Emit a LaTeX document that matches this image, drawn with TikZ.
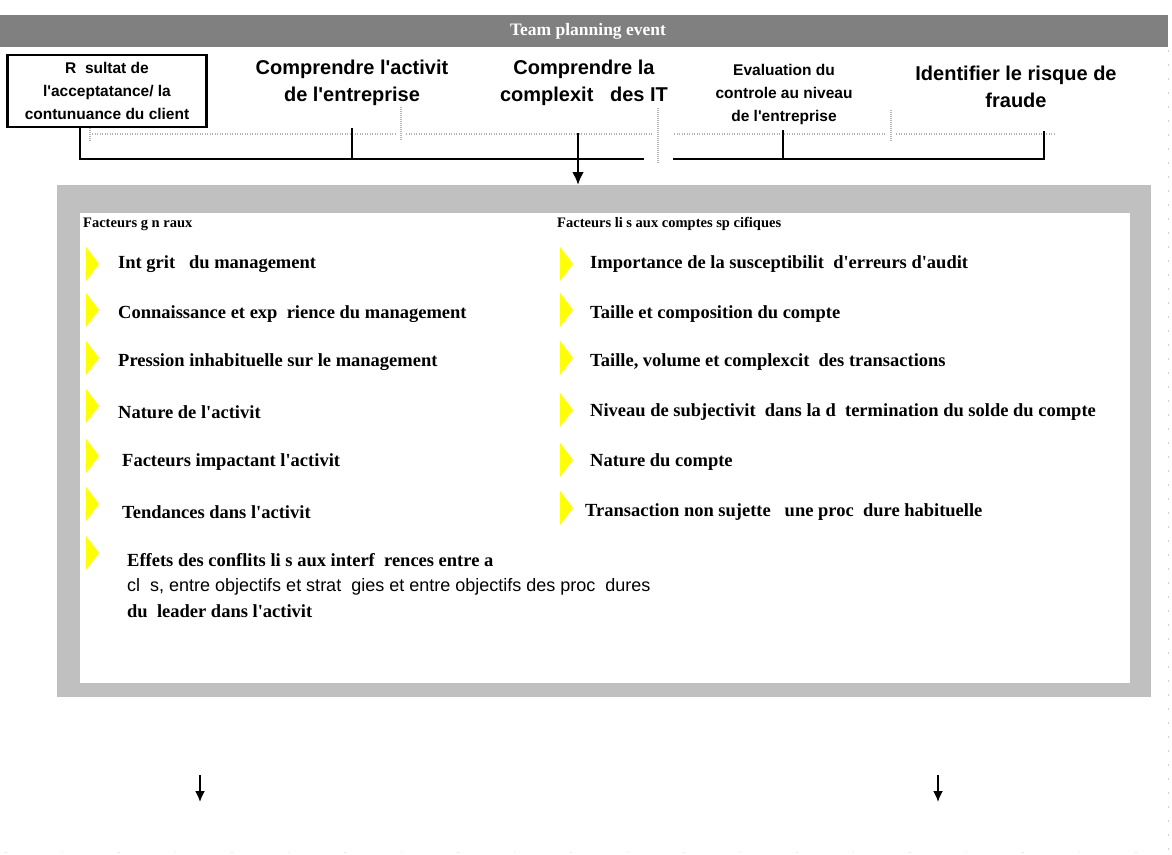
\documentclass[tikz,border=0pt]{standalone}
\usepackage{fontspec}
\setmainfont{Liberation Serif}[Ligatures=TeXOff]
\setsansfont{Liberation Sans}[Ligatures=TeXOff]
\usetikzlibrary{arrows.meta}
\definecolor{hdr}{HTML}{808080}
\definecolor{panelgray}{HTML}{C0C0C0}
\definecolor{bul}{HTML}{FFFF00}
\definecolor{ruler}{HTML}{B4B4B4}
\tikzset{
  brk/.style={line width=2.8pt, draw=black},
  rulerline/.style={draw=ruler, line width=1.2pt, dash pattern=on 1pt off 1.5pt},
  rulersep/.style={draw=ruler, line width=2pt, dash pattern=on 1pt off 1pt},
  biglabel/.style={align=center, inner sep=0pt, font=\sffamily\bfseries\fontsize{20}{27}\selectfont},
  midlabel/.style={align=center, inner sep=0pt, font=\sffamily\bfseries\fontsize{15.5}{23}\selectfont},
  item/.style={anchor=west, inner sep=0pt, font=\bfseries\fontsize{18.5}{20}\selectfont},
  sansitem/.style={anchor=west, inner sep=0pt, font=\sffamily\fontsize{18}{20}\selectfont},
  smallhead/.style={anchor=west, inner sep=0pt, font=\bfseries\fontsize{14.5}{16}\selectfont},
  downarrow/.style={line width=1.8pt, -{Latex[length=11pt,width=10pt]}},
}
\newcommand{\bulletat}[2]{\fill[bul] (#1,#2-17) -- (#1+13,#2) -- (#1,#2+17) -- cycle;}
\begin{document}
\begin{tikzpicture}[x=1pt,y=-1pt]
\useasboundingbox (0,0) rectangle (1172,854);
\fill[white] (0,0) rectangle (1172,854);

% faint page edge marks
\draw[gray!35, line width=0.8pt, dash pattern=on 1.5pt off 12.5pt] (1168,50) -- (1168,854);
\draw[gray!18, line width=0.8pt, dash pattern=on 1.5pt off 55pt] (5,852) -- (1172,852);

% header bar
\fill[hdr] (0,15) rectangle (1168,47);
\node[text=white, inner sep=0pt, font=\bfseries\fontsize{17.5}{19}\selectfont] (title) at (588,31) {Team planning event};

% top labels
\node[draw, line width=2.5pt, minimum width=199pt, minimum height=72pt, inner sep=0pt,
      align=center, font=\sffamily\bfseries\fontsize{15.5}{23}\selectfont] (box) at (107,91)
      {R\ \ sultat de\\l'acceptatance/ la\\contunuance du client};
\node[biglabel] (act) at (352,83) {Comprendre l'activit\\de l'entreprise};
\node[biglabel] (it) at (584,83) {Comprendre la\\complexit\ \ \ des IT};
\node[midlabel] (eval) at (784,94) {Evaluation du\\controle au niveau\\de l'entreprise};
\node[biglabel] (fraud) at (1016,87) {Identifier le risque de\\fraude};

% ruler lines
\draw[rulerline] (92,134) -- (396,134);
\draw[rulerline] (406,134) -- (652,134);
\draw[rulerline] (674,134) -- (886,134);
\draw[rulerline] (896,134) -- (1055,134);
\draw[rulersep] (90,128) -- (90,141);
\draw[rulersep] (401,107) -- (401,141);
\draw[rulersep] (658,108) -- (658,164);
\draw[rulersep] (891,110) -- (891,141);

% bracket
\coordinate (b1) at (80,159);
\coordinate (b2) at (352,159);
\coordinate (b3) at (578,159);
\coordinate (gL) at (644,159);
\coordinate (gR) at (673,159);
\coordinate (b4) at (783,159);
\coordinate (b5) at (1044,159);
\draw[brk] (box.south -| b1) -- (b1) -- (gL);
\draw[brk] (gR) -- (b5) -- (1044,131);
\draw[brk] (352,128) -- (b2);
\draw[brk] (783,130) -- (b4);

% panel
\node[fill=panelgray, inner sep=0pt, minimum width=1094pt, minimum height=512pt, anchor=north west] (panel) at (57,185) {};
\fill[white] (80,213) rectangle (1130,683);
\draw[brk, -{Latex[length=13pt,width=12pt]}] (578,133) -- (b3) -- (panel.north -| b3);

% headers
\node[smallhead] (hl) at (83,224) {Facteurs g\ n\ raux};
\node[smallhead] (hr) at (557,224) {Facteurs li\ s aux comptes sp\ cifiques};

% left bullets
\bulletat{86}{264}
\bulletat{86}{310}
\bulletat{86}{358}
\bulletat{86}{406}
\bulletat{86}{456}
\bulletat{86}{504}
\bulletat{86}{553}
\node[item] (l1) at (118,264) {Int\ grit\ \ \ du management};
\node[item] (l2) at (118,314) {Connaissance et exp\ \ rience du management};
\node[item] (l3) at (118,362) {Pression inhabituelle sur le management};
\node[item] (l4) at (118,412) {Nature de l'activit};
\node[item] (l5) at (122,462) {Facteurs impactant l'activit};
\node[item] (l6) at (122,512) {Tendances dans l'activit};
\node[item] (l7a) at (127,560) {Effets des conflits li\ s aux interf\ \ rences entre a};
\node[sansitem] (l7b) at (127,587) {cl\ \ s, entre objectifs et strat\ \ gies et entre objectifs des proc\ \ dures};
\node[item] (l7c) at (127,611) {du\ \ leader dans l'activit};

% right bullets
\bulletat{560}{264}
\bulletat{560}{310}
\bulletat{560}{358}
\bulletat{560}{410}
\bulletat{560}{460}
\bulletat{560}{508}
\node[item] (r1) at (590,264) {Importance de la susceptibilit\ \ d'erreurs d'audit};
\node[item] (r2) at (590,314) {Taille et composition du compte};
\node[item] (r3) at (590,362) {Taille, volume et complexcit\ \ des transactions};
\node[item] (r4) at (590,412) {Niveau de subjectivit\ \ dans la d\ \ termination du solde du compte};
\node[item] (r5) at (590,462) {Nature du compte};
\node[item] (r6) at (585,512) {Transaction non sujette\ \ \ une proc\ \ dure habituelle};

% bottom arrows
\coordinate (a1s) at (200,775);
\coordinate (a1e) at (200,802);
\coordinate (a2s) at (938,775);
\coordinate (a2e) at (938,802);
\draw[downarrow] (a1s) -- (a1e);
\draw[downarrow] (a2s) -- (a2e);
\end{tikzpicture}
\end{document}
